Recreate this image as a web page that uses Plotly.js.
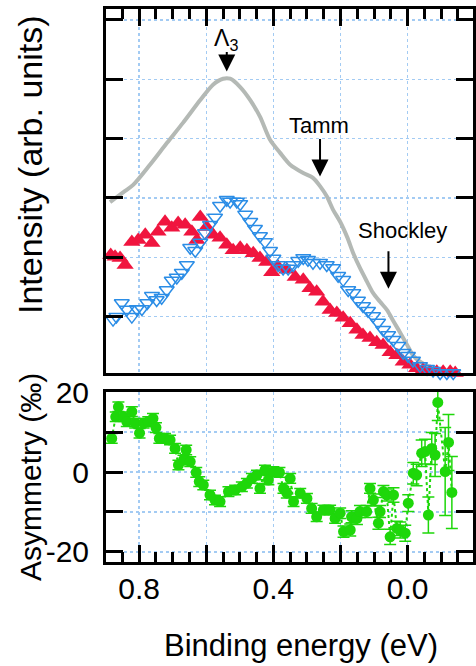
<!DOCTYPE html>
<html>
<head>
<meta charset="utf-8">
<script src="https://cdn.plot.ly/plotly-3.0.1.min.js"></script>
<style>html,body{margin:0;padding:0;background:#fff;}#chart{width:476px;height:666px;}</style>
</head>
<body>
<div id="chart"></div>
<script>
// ---- data (binding energy in eV, intensity in arb. units, asymmetry in permille) ----
const grayX = [0.887,0.866,0.842,0.818,0.768,0.717,0.669,0.618,0.580,0.550,0.529,0.499,0.469,0.440,0.410,0.380,0.350,0.311,0.282,0.261,0.240,0.222,0.201,0.180,0.162,0.142,0.121,0.103,0.082,0.061,0.043,0.022,0.001,-0.016,-0.037,-0.067,-0.097,-0.136];
const grayY = [2.93,3.02,3.12,3.22,3.56,3.93,4.27,4.65,4.91,5.01,5.01,4.87,4.65,4.37,3.98,3.76,3.56,3.42,3.34,3.20,3.02,2.80,2.60,2.34,2.07,1.82,1.59,1.40,1.25,1.11,0.93,0.73,0.52,0.35,0.24,0.15,0.10,0.05];

const redX = [0.885,0.872,0.857,0.842,0.822,0.803,0.782,0.762,0.744,0.723,0.703,0.684,0.663,0.643,0.628,0.618,0.599,0.580,0.559,0.539,0.520,0.499,0.479,0.460,0.440,0.420,0.405,0.386,0.360,0.335,0.311,0.291,0.271,0.252,0.231,0.211,0.192,0.171,0.151,0.133,0.112,0.092,0.073,0.052,0.032,0.013,-0.007,-0.027,-0.046,-0.067,-0.087,-0.106,-0.127,-0.142];
const redY = [2.04,2.01,1.99,1.87,2.26,2.29,2.38,2.24,2.43,2.60,2.50,2.58,2.55,2.43,2.29,2.68,2.51,2.38,2.33,2.21,2.12,2.16,2.12,2.07,1.99,1.92,1.75,1.84,1.79,1.67,1.62,1.48,1.42,1.25,1.11,1.06,0.98,0.89,0.78,0.69,0.64,0.57,0.52,0.40,0.35,0.24,0.19,0.13,0.10,0.07,0.07,0.07,0.07,0.05];

const blueX = [0.878,0.868,0.852,0.837,0.822,0.807,0.792,0.776,0.762,0.748,0.733,0.718,0.703,0.688,0.673,0.658,0.648,0.633,0.618,0.604,0.589,0.574,0.559,0.539,0.529,0.509,0.499,0.484,0.469,0.455,0.440,0.425,0.410,0.400,0.386,0.371,0.356,0.341,0.326,0.311,0.297,0.282,0.261,0.241,0.222,0.207,0.192,0.177,0.162,0.148,0.133,0.118,0.103,0.088,0.073,0.058,0.043,0.028,0.013,-0.001,-0.016,-0.037,-0.058,-0.076,-0.097,-0.117,-0.136];
const blueY = [0.95,1.00,1.23,1.12,1.00,1.13,1.13,1.23,1.35,1.28,1.32,1.45,1.61,1.66,1.74,1.87,2.16,2.11,2.25,2.41,2.55,2.67,2.87,2.97,2.94,2.94,2.90,2.72,2.60,2.48,2.36,2.26,2.11,1.98,1.87,1.81,1.81,1.87,1.94,1.99,1.96,1.91,1.91,1.87,1.82,1.69,1.62,1.45,1.40,1.27,1.18,1.10,1.01,0.90,0.78,0.69,0.61,0.51,0.39,0.34,0.26,0.17,0.12,0.09,0.05,0.05,0.05];

const greenX = [0.882,0.870,0.862,0.847,0.837,0.822,0.812,0.799,0.787,0.773,0.759,0.750,0.740,0.723,0.708,0.693,0.683,0.668,0.660,0.648,0.630,0.621,0.609,0.589,0.574,0.559,0.534,0.514,0.494,0.479,0.464,0.449,0.440,0.425,0.415,0.400,0.382,0.370,0.360,0.350,0.340,0.320,0.300,0.286,0.271,0.251,0.231,0.216,0.201,0.191,0.171,0.167,0.151,0.142,0.122,0.112,0.102,0.087,0.082,0.072,0.062,0.052,0.042,0.032,0.022,0.007,-0.002,-0.017,-0.027,-0.042,-0.052,-0.062,-0.072,-0.082,-0.090,-0.112,-0.122,-0.132];
const greenY = [8.4,13.8,16.3,13.8,12.6,15.1,12.2,9.7,12.2,12.6,13.4,11.1,8.4,8.4,8.0,5.9,1.75,3.0,5.5,2.6,-0.1,-2.4,-3.25,-5.75,-7.0,-7.4,-4.9,-4.5,-3.7,-2.8,-1.6,-0.75,-4.1,0.5,-2.0,0.1,-0.1,-4.1,-5.3,-1.6,-7.4,-5.3,-6.6,-9.1,-11.2,-9.5,-9.5,-11.6,-10.3,-14.9,-14.5,-11.2,-11.6,-9.9,-9.9,-4.1,-7.0,-12.8,-9.9,-4.9,-5.75,-16.2,-5.75,-14.1,-14.5,-15.3,-7.8,-0.3,-0.75,4.7,5.1,-10.75,5.9,4.25,17.4,0.1,7.4,-5.1];
const greenErr = [1.2,1.2,1.2,1.2,1.2,1.2,1.2,1.2,1.2,1.2,1.2,1.2,1.2,1.2,1.2,1.2,1.2,1.2,1.2,1.2,1.2,1.2,1.2,1.2,1.2,1.2,1.2,1.2,1.2,1.2,1.2,1.2,1.2,1.2,1.2,1.2,1.2,1.2,1.2,1.2,1.2,1.2,1.2,1.2,1.2,1.2,1.2,1.2,1.3,1.4,1.5,1.5,1.5,1.5,1.5,1.2,1.5,1.5,1.5,1.5,1.5,1.9,1.8,1.8,2.0,2.0,2.1,2.7,2.7,3.3,3.1,4.5,4.0,5.4,4.5,11,7,9];

// ---- ticks ----
const xTickVals = [0.8,0.6,0.4,0.2,0.0];
const xTickText = ['0.8','','0.4','','0.0'];
const intTickVals = [1,2,3,4,5,6];
const asymTickVals = [-20,-10,0,10,20];
const asymTickText = ['-20','','0','','20'];

// ---- style ----
const FONT = 'Liberation Sans, Arial, Helvetica, sans-serif';
const GRID = '#a3cbf3';
const GREEN = '#1ed70a';

const traces = [
  {x: grayX, y: grayY, xaxis:'x2', yaxis:'y2', type:'scatter', mode:'lines',
   line:{color:'#b4b9b5', width:4, shape:'spline', smoothing:0.8}, hoverinfo:'skip'},
  {x: redX, y: redY, xaxis:'x2', yaxis:'y2', type:'scatter', mode:'markers', cliponaxis:false,
   marker:{symbol:'triangle-up', size:15, color:'#f0153f', line:{width:0}}},
  {x: blueX, y: blueY, xaxis:'x2', yaxis:'y2', type:'scatter', mode:'markers', cliponaxis:false,
   marker:{symbol:'triangle-down-open', size:13, color:'#2b8de6', line:{width:1.5, color:'#2b8de6'}}},
  {x: greenX, y: greenY, xaxis:'x', yaxis:'y', type:'scatter', mode:'lines+markers', cliponaxis:false,
   line:{color:GREEN, width:2, dash:'dot'},
   marker:{symbol:'circle', size:11, color:GREEN},
   error_y:{type:'data', array:greenErr, visible:true, color:GREEN, thickness:1.5, width:6}}
];

const common = {
  tickcolor:'black', tickwidth:3, ticklen:17, ticks:'inside',
  showline:true, linecolor:'black', linewidth:3,
  showgrid:true, gridcolor:GRID, gridwidth:1.5, griddash:'dot',
  zeroline:false, tickfont:{family:FONT, size:30, color:'black'}
};

const xMinor = {tickmode:'linear', tick0:0, dtick:0.05, ticks:'inside', ticklen:10, tickwidth:3, tickcolor:'black', showgrid:false};

const layout = {
  width:476, height:666,
  margin:{l:106, r:3, t:9, b:104},
  paper_bgcolor:'white', plot_bgcolor:'white',
  showlegend:false,
  font:{family:FONT, color:'black'},
  xaxis: Object.assign({}, common, {
    anchor:'y', domain:[0,1], range:[0.899,-0.195], side:'bottom', mirror:true,
    tickmode:'array', tickvals:xTickVals, ticktext:xTickText, minor:xMinor, ticklabelstandoff:-2
  }),
  yaxis: Object.assign({}, common, {
    anchor:'x', domain:[0,0.3074], range:[-22.5,20], mirror:'ticks',
    tickmode:'array', tickvals:asymTickVals, ticktext:asymTickText, ticklabelstandoff:8
  }),
  xaxis2: Object.assign({}, common, {
    anchor:'y2', domain:[0,1], range:[0.899,-0.195], side:'top', mirror:true,
    tickmode:'array', tickvals:xTickVals, showticklabels:false, minor:xMinor
  }),
  yaxis2: Object.assign({}, common, {
    anchor:'x2', domain:[0.3409,1], range:[0.042,6.185], mirror:'ticks',
    tickmode:'array', tickvals:intTickVals, showticklabels:false
  }),
  annotations:[
    {text:'Intensity (arb. units)', xref:'paper', yref:'paper', x:-0.2071, y:0.7197, textangle:-90,
     showarrow:false, xanchor:'center', yanchor:'middle', font:{family:FONT, size:34, color:'black'}},
    {text:'Asymmetry (‰)', xref:'paper', yref:'paper', x:-0.2071, y:0.1537, textangle:-90,
     showarrow:false, xanchor:'center', yanchor:'middle', font:{family:FONT, size:30, color:'black'}},
    {text:'Binding energy (eV)', xref:'paper', yref:'paper', x:0.5313, y:-0.1501,
     showarrow:false, xanchor:'center', yanchor:'middle', font:{family:FONT, size:31, color:'black'}},
    {text:'Λ<sub>3</sub>', xref:'x2', yref:'y2', x:0.541, y:5.67, showarrow:false,
     xanchor:'center', yanchor:'middle', font:{family:FONT, size:23, color:'black'}},
    {text:'', xref:'x2', yref:'y2', x:0.539, y:5.13, ax:0, ay:-21, showarrow:true,
     arrowhead:2, arrowsize:1.7, arrowwidth:2, arrowcolor:'black'},
    {text:'Tamm', xref:'x2', yref:'y2', x:0.264, y:4.23, showarrow:false,
     xanchor:'center', yanchor:'middle', font:{family:FONT, size:22, color:'black'}},
    {text:'', xref:'x2', yref:'y2', x:0.261, y:3.36, ax:0, ay:-39, showarrow:true,
     arrowhead:2, arrowsize:1.7, arrowwidth:2, arrowcolor:'black'},
    {text:'Shockley', xref:'x2', yref:'y2', x:0.016, y:2.445, showarrow:false,
     xanchor:'center', yanchor:'middle', font:{family:FONT, size:22, color:'black'}},
    {text:'', xref:'x2', yref:'y2', x:0.057, y:1.47, ax:0, ay:-39, showarrow:true,
     arrowhead:2, arrowsize:1.7, arrowwidth:2, arrowcolor:'black'}
  ]
};

Plotly.newPlot('chart', traces, layout, {displayModeBar:false, staticPlot:true});
</script>
</body>
</html>
